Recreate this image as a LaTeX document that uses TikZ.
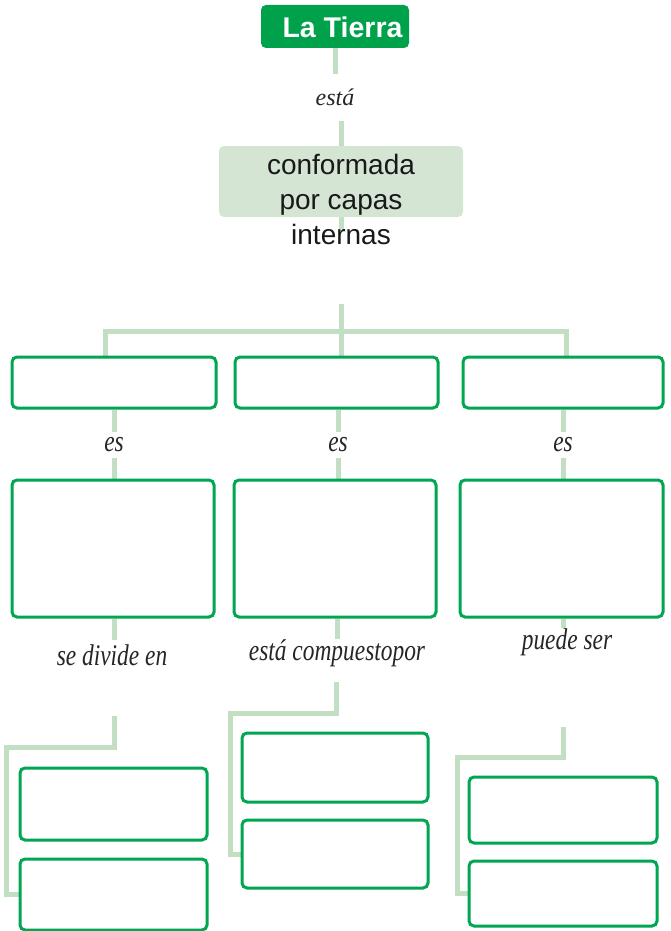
\documentclass[tikz,border=0pt]{standalone}
\usepackage{fontspec}
\usetikzlibrary{backgrounds}
\setmainfont{Liberation Serif}
\setsansfont{Liberation Sans}
\newfontfamily\condfont[FakeStretch=0.78]{Liberation Serif}
\definecolor{darkgreen}{HTML}{00A14B}
\definecolor{boxgreen}{HTML}{00A651}
\definecolor{connc}{HTML}{C3DFC3}
\definecolor{palefill}{HTML}{D4E6D3}
\tikzset{
  conn/.style={draw=connc, line width=5pt},
  ebox/.style={draw=boxgreen, line width=3pt, rounded corners=5pt, fill=white, inner sep=0pt},
  lbl/.style={inner sep=0pt, font=\condfont\itshape\fontsize{30}{32}\selectfont, text=black!85},
}
\begin{document}
\begin{tikzpicture}[x=1pt,y=-1pt]
\useasboundingbox (0,0) rectangle (670,931);
% top
\node[fill=darkgreen, rounded corners=5pt, minimum width=148pt, minimum height=43pt, inner sep=0pt] (tierra) at (335,26.5) {};
\node[text=white, font=\sffamily\bfseries\fontsize{28.5}{30}\selectfont, inner sep=0pt] (tierratxt) at (342.5,27) {La Tierra};
\node[inner sep=0pt, minimum height=47pt, font=\itshape\fontsize{24}{26}\selectfont, text=black!85] (esta) at (335,97.5) {está};
\node[fill=palefill, rounded corners=5pt, minimum width=244pt, minimum height=71pt, inner sep=0pt] (capas) at (341,181.5) {};
\node[align=center, font=\sffamily\fontsize{28}{35}\selectfont, text=black!90, inner sep=0pt] (capastxt) at (341,199) {conformada\\por capas\\internas};
\coordinate (capasend) at (341,229);
\coordinate (stem) at (341,304);
\coordinate (bar) at (341,331);
% row 1
\node[ebox, minimum width=204pt, minimum height=51pt] (r1a) at (114,382.5) {};
\node[ebox, minimum width=203pt, minimum height=51pt] (r1b) at (336.5,382.5) {};
\node[ebox, minimum width=200pt, minimum height=51pt] (r1c) at (563,382.5) {};
% es labels
\node[lbl, minimum height=26pt] (es1) at (114,445) {es};
\node[lbl, minimum height=26pt] (es2) at (338,445) {es};
\node[lbl, minimum height=26pt] (es3) at (563,445) {es};
% row 2
\node[ebox, minimum width=202pt, minimum height=137pt] (r2a) at (113,548.5) {};
\node[ebox, minimum width=202pt, minimum height=137pt] (r2b) at (335,548.5) {};
\node[ebox, minimum width=203pt, minimum height=137pt] (r2c) at (561.5,548.5) {};
% bottom labels
\node[lbl, minimum height=30pt] (l1) at (112,655) {se divide en};
\node[lbl, minimum height=26pt] (l2) at (337,653) {está compuestopor};
\node[lbl, minimum height=18pt] (l3) at (567,642) {puede ser};
\coordinate (c1) at (114,716);
\coordinate (c2) at (336,682);
\coordinate (c3) at (563,727);
% bottom boxes
\node[ebox, minimum width=187pt, minimum height=72pt] (b1a) at (113.5,804) {};
\node[ebox, minimum width=187pt, minimum height=71pt] (b1b) at (113.5,894.5) {};
\node[ebox, minimum width=186pt, minimum height=69pt] (b2a) at (335,767.5) {};
\node[ebox, minimum width=186pt, minimum height=68pt] (b2b) at (335,854) {};
\node[ebox, minimum width=188pt, minimum height=66pt] (b3a) at (563,810) {};
\node[ebox, minimum width=188pt, minimum height=65pt] (b3b) at (563,893.5) {};
% connectors
\begin{scope}[on background layer]
\draw[conn] (tierra.south) -- (esta.north);
\draw[conn] (esta.south -| capas) -- (capas.north);
\draw[conn] (capas.south) -- (capasend);
\draw[conn] (stem) -- (r1b.north -| stem);
\draw[conn] ([xshift=-9pt]r1a.north) |- (bar) -| ([xshift=3pt]r1c.north);
\draw[conn] (r1a.south) -- (es1.north);
\draw[conn] (es1.south) -- (r2a.north -| es1);
\draw[conn] (r1b.south -| es2) -- (es2.north);
\draw[conn] (es2.south) -- (r2b.north -| es2);
\draw[conn] (r1c.south -| es3) -- (es3.north);
\draw[conn] (es3.south) -- (r2c.north -| es3);
\draw[conn] (r2a.south -| c1) -- (l1.north -| c1);
\draw[conn] (r2b.south -| l2) -- (l2.north);
\draw[conn] (r2c.south -| c3) -- (l3.north -| c3);
\draw[conn] (c1) -- (114,747) -- (6.5,747) |- (b1b.west);
\draw[conn] (c2) -- (336,713) -- (230,713) |- (b2b.west);
\draw[conn] (c3) -- (563,757) -- (457,757) |- (b3b.west);
\end{scope}
\end{tikzpicture}
\end{document}
